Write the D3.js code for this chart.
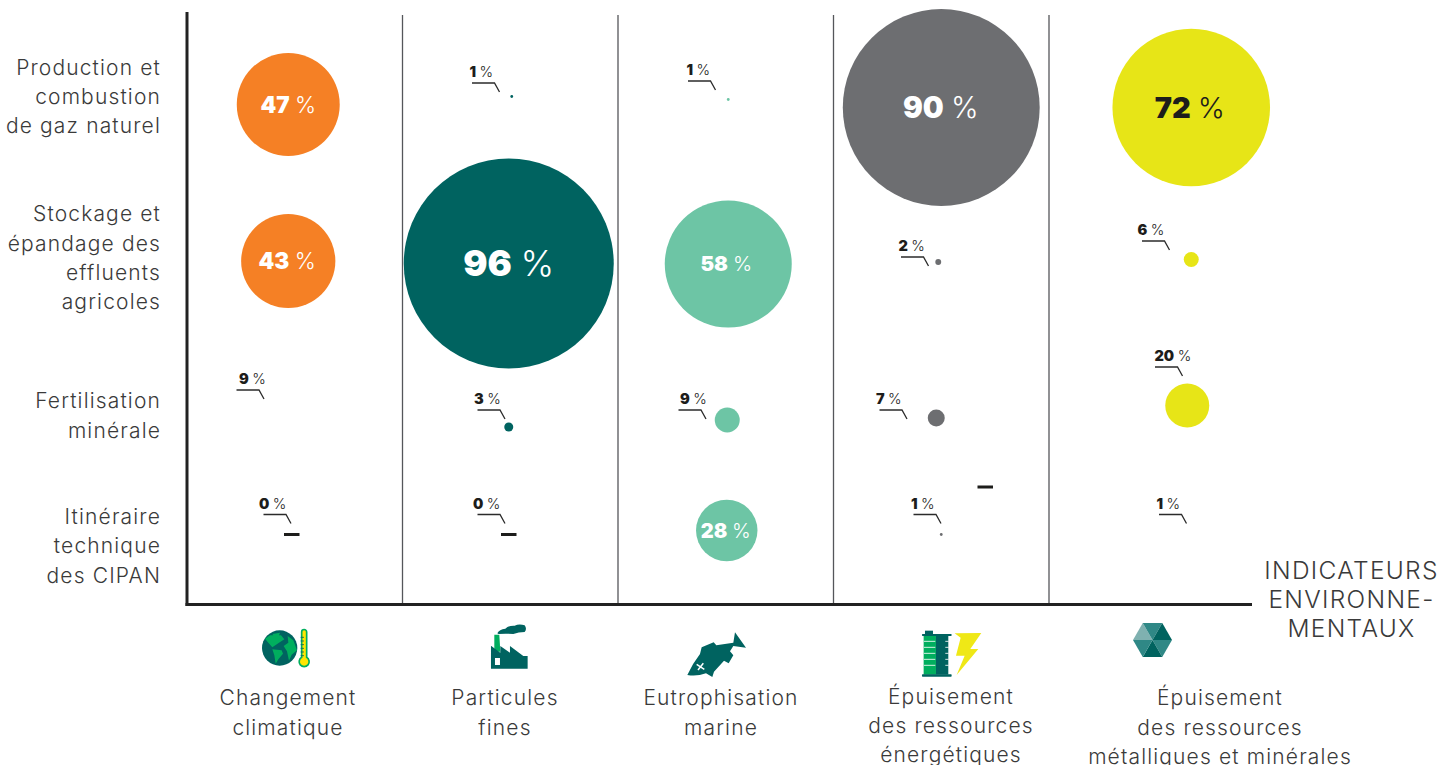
<!DOCTYPE html>
<html lang="fr">
<head>
<meta charset="utf-8">
<title>Contribution des postes aux indicateurs environnementaux</title>
<script src="https://cdn.jsdelivr.net/npm/d3@7/dist/d3.min.js"></script>
<style>
  html, body { margin: 0; padding: 0; background: #fff; overflow: hidden; }
  svg { display: block; }
  text { font-family: Inter, "Noto Sans", sans-serif; }
</style>
</head>
<body>
<svg id="chart" width="1456" height="765"></svg>
<script>
// Indicators (columns) and practices (rows)
const indicators = ["Changement climatique", "Particules fines", "Eutrophisation marine",
  "Épuisement des ressources énergétiques", "Épuisement des ressources métalliques et minérales"];
const practices = ["Production et combustion de gaz naturel", "Stockage et épandage des effluents agricoles",
  "Fertilisation minérale", "Itinéraire technique des CIPAN"];

// Share of each indicator, in percent
const climat      = [47, 43, 9, 0];
const particules  = [1, 96, 3, 0];
const eutrophie   = [1, 58, 9, 28];
const energie     = [90, 2, 7, 1];
const metaux      = [72, 6, 20, 1];
const shares = [climat, particules, eutrophie, energie, metaux];

// Wrapped text
const rowLines = [["Production et", "combustion", "de gaz naturel"],
  ["Stockage et", "épandage des", "effluents", "agricoles"],
  ["Fertilisation", "minérale"],
  ["Itinéraire", "technique", "des CIPAN"]];
const colLines = [["Changement", "climatique"], ["Particules", "fines"], ["Eutrophisation", "marine"],
  ["Épuisement", "des ressources", "énergétiques"], ["Épuisement", "des ressources", "métalliques et minérales"]];
const axisTitle = ["INDICATEURS", "ENVIRONNE-", "MENTAUX"];

// Cells that carry a label but no visible bubble: [column, row]
const bare = [[0, 2], [4, 3]];
// Loose zero dash above the last energy label
const looseDash = { col: 3, row: 3, value: 0 };

const palette = ["#f58025", "#006360", "#6dc5a5", "#6d6e71", "#e7e517"];
const inkDark = "#1d1d1b", inkText = "#3a3a3a";

const svg = d3.select("#chart");
const x = d3.scaleBand().domain(d3.range(indicators.length)).range([187, 1264.5]);
const y = d3.scaleOrdinal().domain(d3.range(practices.length)).range([105, 261, 420, 530]);
const radius = d3.scaleLinear().domain([0, 1, 3, 7, 9, 20, 96]).range([0, 1.4, 4.5, 8.5, 12.5, 22, 105]);

// Hand placement of each bubble relative to its column centre and row
const nudgeX = [[-6.5, -6.5, 0, -3, 0], [1.5, -1.5, -1.5, -1.5, -1.5], [2.5, 2.5, 1.5, 1, 0], [0, -3, -5, 0, 0], [34.5, 34.5, 30.5, 0, 0]];
const nudgeY = [[-0.5, 0, 0, 4.5], [-8.5, 2.5, 7, 4.5], [-5.5, 3, 0, 0.5], [2.5, 1, -2, 4.5], [2.5, -1.5, -14.5, 0]];
// Inside labels: font size and horizontal shift per value
const insideSize = { 47: 22.5, 43: 22.5, 96: 36, 58: 20.5, 28: 20, 90: 29.5, 72: 29 };
const insideOffset = { 47: 0, 43: -1, 96: 0, 58: -2, 28: -1, 90: -0.5, 72: -1.5 };
// Leader line start of each outside label, with the label's own shift
const leaders = {
  "0,2": [236.5, 390, 5], "0,3": [263.5, 514.5, -2],
  "1,0": [472, 83, 0], "1,2": [477.5, 410, -1], "1,3": [477.5, 514.5, -2],
  "2,0": [688, 81, 1], "2,2": [678.5, 410, 4],
  "3,1": [901, 257, 0], "3,2": [879.5, 410, -1], "3,3": [913.5, 514.5, 0],
  "4,1": [1142, 241, -2], "4,2": [1155, 367, 2], "4,3": [1159, 514.5, 0]
};

const cx = (c, r) => x(c) + x.bandwidth() / 2 + nudgeX[c][r];
const cy = (c, r) => y(r) + nudgeY[c][r];

// Frame: column rules, then the two heavy axes
const plotBottom = 604.5;
svg.append("g").selectAll("line").data(d3.range(1, indicators.length)).join("line")
  .attr("x1", d => x(d)).attr("x2", d => x(d)).attr("y1", 15).attr("y2", plotBottom)
  .attr("stroke", "#55565a").attr("stroke-width", 1.3);
svg.append("line").attr("x1", 187).attr("x2", 187).attr("y1", 12).attr("y2", plotBottom + 1.5)
  .attr("stroke", "#222").attr("stroke-width", 3);
svg.append("line").attr("x1", 185.5).attr("x2", 1252).attr("y1", plotBottom).attr("y2", plotBottom)
  .attr("stroke", "#222").attr("stroke-width", 3);

// Bubbles, dashes and labels
const cells = shares.flatMap((vals, c) => vals.map((v, r) => ({ c, r, v })));
const isBare = d => bare.some(([c, r]) => c === d.c && r === d.r);
const plot = svg.append("g");

plot.selectAll("circle").data(cells.filter(d => d.v > 0 && !isBare(d))).join("circle")
  .attr("cx", d => cx(d.c, d.r)).attr("cy", d => cy(d.c, d.r))
  .attr("r", d => radius(d.v)).attr("fill", d => palette[d.c]);

const dashWidth = 15.5;
const dashes = cells.filter(d => d.v === 0).map(d => ({ px: cx(d.c, d.r), py: cy(d.c, d.r) }));
dashes.push({ px: cx(looseDash.col, looseDash.row) + 44, py: cy(looseDash.col, looseDash.row) - 47.5 });
plot.selectAll("rect.dash").data(dashes).join("rect").attr("class", "dash")
  .attr("x", d => d.px - dashWidth / 2).attr("y", d => d.py - 1.5)
  .attr("width", dashWidth).attr("height", 3).attr("fill", inkDark);

function percentLabel(sel, v, size, fill) {
  const t = sel.append("text").attr("font-size", size).attr("fill", fill);
  t.append("tspan").attr("font-weight", 900).text(v);
  t.append("tspan").attr("font-weight", 300).attr("dx", size * 0.24).text("%");
  return t;
}

cells.filter(d => insideSize[d.v] && !leaders[d.c + "," + d.r]).forEach(d => {
  const size = insideSize[d.v];
  const g = plot.append("g");
  percentLabel(g, d.v, size, d.v === 72 ? inkDark : "#fff")
    .attr("x", cx(d.c, d.r) + (insideOffset[d.v] || 0))
    .attr("y", cy(d.c, d.r) + size * 0.36)
    .attr("text-anchor", "middle");
});

Object.entries(leaders).forEach(([key, [sx, sy, shift]]) => {
  const [c, r] = key.split(",").map(Number);
  const g = plot.append("g");
  percentLabel(g, shares[c][r], 14.5, inkDark).attr("x", sx - 2.5 + shift).attr("y", sy - 6);
  g.append("path").attr("fill", "none").attr("stroke", "#2b2b2b").attr("stroke-width", 1.3)
    .attr("d", d3.line()([[sx, sy], [sx + 22.5, sy], [sx + 27.5, sy + 9]]));
});

// Row and column captions
function block(lines, px, baselines, anchor, size, ls) {
  lines.forEach((line, i) => {
    svg.append("text").attr("x", px).attr("y", baselines[i]).attr("text-anchor", anchor)
      .attr("font-size", size).attr("font-weight", 300).attr("letter-spacing", ls).attr("fill", inkText).text(line);
  });
}
const rowBase = [[75, 104, 133], [221, 251, 280, 309], [408, 438], [524, 553, 583]];
rowLines.forEach((lines, i) => block(lines, 161, rowBase[i], "end", 21, 1.15));
const colCentre = [288, 505, 721, 951, 1220];
const colBase = [[705, 735], [705, 735], [705, 735], [704, 733, 762], [705, 735, 764]];
colLines.forEach((lines, i) => block(lines, colCentre[i], colBase[i], "middle", 21, 1.15));
block(axisTitle, 1351.5, [579, 608, 637], "middle", 24.5, 1.3);

// Indicator pictograms
const green = "#00ae5e", teal = "#006360", bolt = "#efe816";

// Globe and thermometer
const climate = svg.append("g").attr("transform", "translate(230,610) scale(0.3333)");
climate.append("circle").attr("cx", 149).attr("cy", 114).attr("r", 53).attr("fill", teal);
climate.append("path").attr("fill", green)
  .attr("d", "M105,86 L120,76 L153,76 L163,88 L147,98 L127,112 L115,98Z M127,118 L155,121 L159,131 L145,148 L137,161 L133,136Z M173,78 L190,91 L201,121 L185,134 L177,152 L171,124 L161,108 L175,98Z M127,72 L150,68 L147,76 L130,76Z");
climate.append("path").attr("d", "M215,66 a7,7 0 0 1 15,0 V142 a15,15 0 1 1 -15,0Z").attr("fill", "#ffe600").attr("stroke", green).attr("stroke-width", 5);
climate.append("path").attr("stroke", teal).attr("stroke-width", 2.5).attr("d", d3.range(82, 140, 11).map(v => `M212,${v}H222`).join(""));

// Factory with its smoke
const factory = svg.append("g").attr("transform", "translate(230,610) scale(0.3333)");
factory.append("path").attr("fill", green).attr("d", "M793,74 H808 L811,125 H793Z");
factory.append("path").attr("fill", teal).attr("d", "M783,107 L811,128 V108 L840,128 V108 L880,138 H893 V176 H783Z");
factory.append("rect").attr("x", 795).attr("y", 144).attr("width", 15).attr("height", 21).attr("fill", "#fff");
factory.append("path").attr("fill", teal).attr("d", "M802,70 Q808,58 826,56 Q836,46 854,47 Q868,40 884,46 Q892,56 884,66 Q866,66 850,72 Q826,70 806,72Z");

// Fish
const fish = svg.append("g").attr("transform", "translate(670,610) scale(0.3333)");
fish.append("path").attr("fill", teal).attr("d", "M52,195 Q68,160 90,132 L95,112 L131,97 L139,106 L190,98 L195,67 L228,113 L190,108 L180,124 L190,136 L176,160 L162,152 L132,185 L127,201 L108,190 Q80,200 52,195Z");
fish.append("path").attr("stroke", "#fff").attr("stroke-width", 4.5).attr("d", "M80,163 L103,178 M100,160 L84,180");

// Battery and lightning bolt
const battery = svg.append("g").attr("transform", "translate(670,610) scale(0.3333)");
battery.append("rect").attr("x", 761).attr("y", 77).attr("width", 37).attr("height", 117).attr("fill", green);
battery.append("rect").attr("x", 798).attr("y", 77).attr("width", 37).attr("height", 117).attr("fill", teal);
battery.append("rect").attr("x", 765).attr("y", 62).attr("width", 24).attr("height", 12).attr("fill", teal);
battery.append("rect").attr("x", 756).attr("y", 72).attr("width", 89).attr("height", 6).attr("rx", 2).attr("fill", teal);
battery.append("rect").attr("x", 756).attr("y", 193).attr("width", 89).attr("height", 7).attr("rx", 2).attr("fill", teal);
battery.append("path").attr("stroke", "#fff").attr("stroke-width", 2.5)
  .attr("d", d3.range(94, 170, 18).map(v => `M762,${v}H796M826,${v}H836`).join(""));
battery.append("path").attr("fill", bolt).attr("d", "M854,70 L934,69 L901,117 L925,117 L860,195 L884,137 L858,137 L872,83Z");

// Six-sided mineral
const mineral = svg.append("g").attr("transform", "translate(1152.5,640)");
const hexR = 19.5;
const corners = d3.range(6).map(i => [hexR * Math.cos(i * Math.PI / 3), hexR * Math.sin(i * Math.PI / 3)]);
const facets = ["#2f8886", "#00635f", "#2f8886", "#7fb1b0", "#2f8886", "#00635f"];
facets.forEach((fill, i) => {
  const a = corners[i], b = corners[(i + 1) % 6];
  mineral.append("path").attr("fill", fill).attr("d", `M0,0L${a[0]},${a[1]}L${b[0]},${b[1]}Z`);
});
</script>
</body>
</html>
